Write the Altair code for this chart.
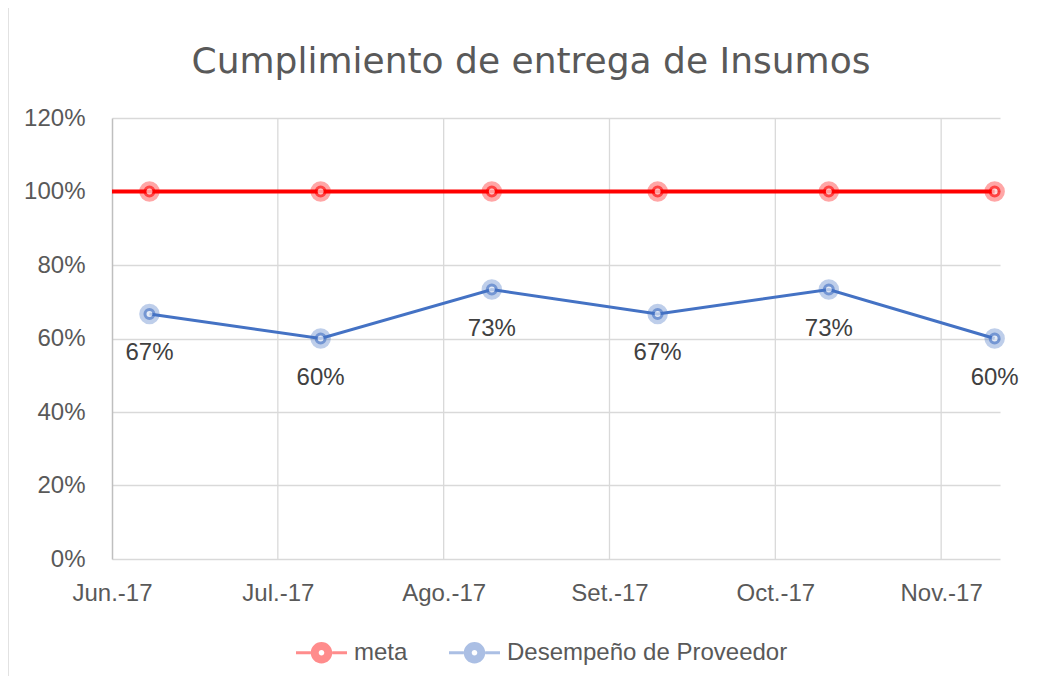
import altair as alt
import pandas as pd

# ---- data ----
fechas = ["2017-06-08", "2017-07-10", "2017-08-11", "2017-09-11", "2017-10-13", "2017-11-13"]
meta = [1.00, 1.00, 1.00, 1.00, 1.00, 1.00]
desempeno = [0.6667, 0.60, 0.7333, 0.6667, 0.7333, 0.60]
# the red target line already starts at the left edge of the plot
meta_inicio_fecha = "2017-06-01"
meta_inicio_valor = 1.00
series = ["meta", "Desempeño de Proveedor"]
colores = ["#FF0000", "#4472C4"]
meses = ["Ene.", "Feb.", "Mar.", "Abr.", "May.", "Jun.", "Jul.", "Ago.", "Set.", "Oct.", "Nov.", "Dic."]
# axis ticks every 31 days (as in the original date axis)
ticks_fechas = ["2017-06-01", "2017-07-02", "2017-08-02", "2017-09-02", "2017-10-03", "2017-11-03"]
titulo = "Cumplimiento de entrega de Insumos"

rows = []
for f, v in zip(fechas, meta):
    rows.append({"fecha": f, "valor": v, "serie": series[0]})
for f, v in zip(fechas, desempeno):
    rows.append({"fecha": f, "valor": v, "serie": series[1]})
df = pd.DataFrame(rows)
df_des = df[df["serie"] == series[1]]
df_lineas = pd.concat(
    [pd.DataFrame([{"fecha": meta_inicio_fecha, "valor": meta_inicio_valor, "serie": series[0]}]), df],
    ignore_index=True,
)
df_grid = pd.DataFrame({"fecha": ticks_fechas[1:]})

FONT = "Liberation Sans"
GRAY = "#595959"


def to_dt(s):
    y, m, d = (int(p) for p in s.split("-"))
    return alt.DateTime(year=y, month=m, date=d, utc=True)


tick_vals = [to_dt(s) for s in ticks_fechas]
x_dom = [alt.DateTime(year=2017, month=6, date=1, utc=True),
         alt.DateTime(year=2017, month=11, date=14, utc=True)]
month_arr = "[" + ",".join("'%s'" % m for m in meses) + "]"


def x_enc():
    return alt.X(
        "fecha:T",
        scale=alt.Scale(type="utc", domain=x_dom),
        axis=alt.Axis(
            title=None, values=tick_vals, grid=False,
            ticks=False, domain=False, labelFont=FONT, labelFontSize=24, labelColor=GRAY,
            labelPadding=22, labelOverlap=False, labelFlush=False,
            labelExpr=month_arr + "[utcmonth(datum.value)] + '-' + utcFormat(datum.value, '%y')",
        ),
    )


def y_enc():
    return alt.Y(
        "valor:Q",
        scale=alt.Scale(domain=[0, 1.2], nice=False),
        axis=alt.Axis(
            title=None, values=[0, 0.2, 0.4, 0.6, 0.8, 1.0, 1.2], format=".0%", grid=True,
            gridColor="#d9d9d9", gridWidth=1.3, ticks=False, domain=True, domainColor="#bfbfbf",
            domainWidth=1.5, labelFont=FONT, labelFontSize=24, labelColor=GRAY, labelPadding=27,
        ),
    )


# legend scale (fill) keeps the natural order; the other channels use the reversed
# order so that Vega-Lite does not merge their (disabled) legends with the fill legend
col_scale = dict(domain=series, range=colores)
col_scale_rev = dict(domain=series[::-1], range=colores[::-1])

legend_path = (
    "M-1,-0.06H-0.42V0.06H-1Z "
    "M0.42,-0.06H1V0.06H0.42Z "
    "M0.42,0A0.42,0.42,0,1,1,-0.42,0A0.42,0.42,0,1,1,0.42,0Z "
    "M0.11,0A0.11,0.11,0,1,0,-0.11,0A0.11,0.11,0,1,0,0.11,0Z"
)

# vertical gridlines at the axis ticks
vgrid = alt.Chart(df_grid).mark_rule(color="#d9d9d9", strokeWidth=1.3).encode(
    x=x_enc(), y=alt.value(0), y2=alt.value(441),
)

lines = alt.Chart(df_lineas).mark_line().encode(
    x=x_enc(), y=y_enc(),
    color=alt.Color("serie:N", scale=alt.Scale(**col_scale_rev), legend=None),
    strokeWidth=alt.StrokeWidth("serie:N", scale=alt.Scale(domain=series[::-1], range=[3, 4]), legend=None),
)

glow = alt.Chart(df).mark_circle(size=420, opacity=0.35).encode(
    x=x_enc(), y=y_enc(),
    fill=alt.Fill(
        "serie:N", scale=alt.Scale(**col_scale),
        legend=alt.Legend(
            title=None, orient="none", direction="horizontal", legendX=184, legendY=509,
            symbolType=legend_path, symbolSize=2601, symbolOpacity=0.45, symbolStrokeWidth=0,
            labelFont=FONT, labelFontSize=24, labelColor=GRAY, labelOffset=7, columnPadding=41,
            labelLimit=0,
        ),
    ),
)

core = alt.Chart(df).mark_point(size=80, filled=False, fill="white", strokeWidth=3, opacity=0.6).encode(
    x=x_enc(), y=y_enc(),
    stroke=alt.Stroke("serie:N", scale=alt.Scale(**col_scale_rev), legend=None),
)

labels = alt.Chart(df_des).mark_text(
    dy=39, font=FONT, fontSize=24, color="#404040"
).encode(
    x=x_enc(), y=y_enc(),
    text=alt.Text("valor:Q", format=".0%"),
)

border = alt.Chart(pd.DataFrame({"b": [0]})).mark_rule(color="#d9d9d9", strokeWidth=1.5).encode(
    x=alt.value(-104), y=alt.value(-110), y2=alt.value(566),
)

chart = (
    alt.layer(vgrid, lines, glow, core, labels, border)
    .properties(
        width=888, height=441,
        background="white",
        view=alt.ViewBackground(stroke="transparent", strokeWidth=0, strokeOpacity=0),
        title=alt.TitleParams(
            titulo, font="DejaVu Sans", fontSize=36, fontWeight="normal", color=GRAY,
            anchor="middle", frame="group", dx=-25, offset=0, dy=74,
        ),
        autosize=alt.AutoSizeParams(type="none"),
        padding={"left": 104, "top": 110, "right": 44, "bottom": 117},
    )
    .configure_view(stroke="transparent", strokeWidth=0, strokeOpacity=0)
)

chart.save("out.html", embed_options={"renderer": "svg", "actions": False})
